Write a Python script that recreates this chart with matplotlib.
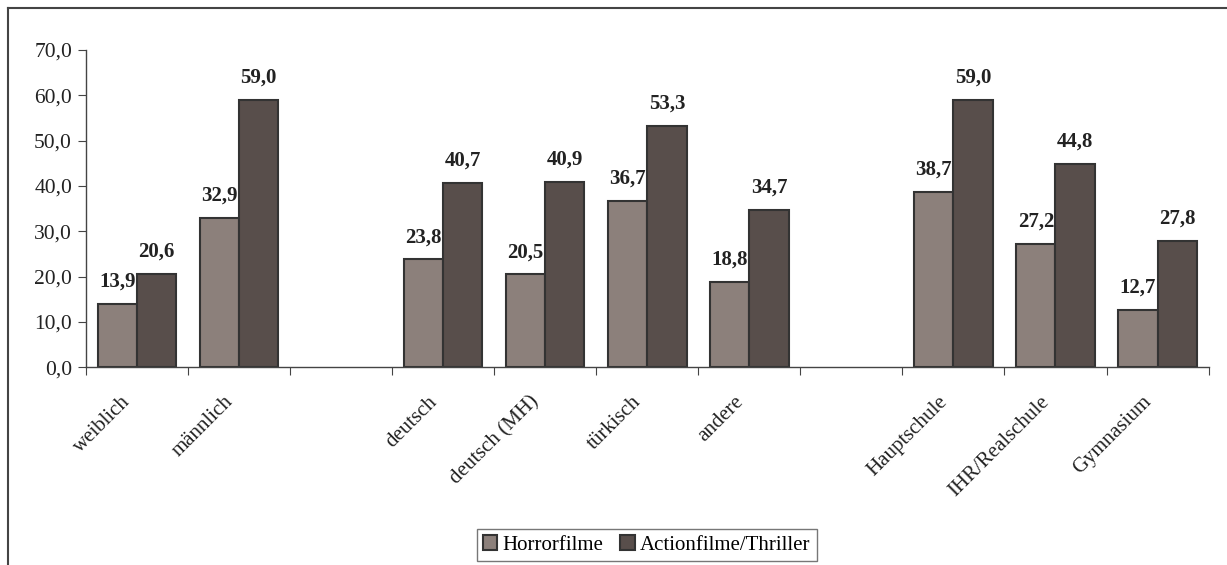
import matplotlib.pyplot as plt
import matplotlib.lines as mlines
import matplotlib.transforms as mtrans
import numpy as np

plt.rcParams['font.family'] = ['Liberation Serif', 'DejaVu Serif']

# categories (empty strings are the spacer slots between groups)
categories = ['weiblich', 'männlich', '',
              'deutsch', 'deutsch (MH)', 'türkisch', 'andere', '',
              'Hauptschule', 'IHR/Realschule', 'Gymnasium']
horror = [13.9, 32.9, None, 23.8, 20.5, 36.7, 18.8, None, 38.7, 27.2, 12.7]
action = [20.6, 59.0, None, 40.7, 40.9, 53.3, 34.7, None, 59.0, 44.8, 27.8]
series_names = ['Horrorfilme', 'Actionfilme/Thriller']

c_horror = '#8c807b'
c_action = '#584e4b'
edge = '#333333'

fig = plt.figure(figsize=(12.27, 5.65), dpi=100)
ax = fig.add_axes([0.070, 0.350, 0.915, 0.5615])

x = np.arange(len(categories))
w = 0.385

def fmt(v):
    return f'{v:.1f}'.replace('.', ',')

for vals, off, col, name in [(horror, -w / 2, c_horror, series_names[0]),
                             (action, w / 2, c_action, series_names[1])]:
    xs = [xi + off for xi, v in zip(x, vals) if v is not None]
    vs = [v for v in vals if v is not None]
    ax.bar(xs, vs, width=w, color=col, edgecolor=edge, linewidth=1.5, label=name)
    for xi, v in zip(xs, vs):
        ax.text(xi, v + 2.7, fmt(v), ha='center', va='bottom',
                fontsize=15, fontweight='bold', color='#222222')

ax.set_xlim(-0.5, len(categories) - 0.5)
ax.set_ylim(0, 70)
ax.set_yticks(np.arange(0, 71, 10))
ax.set_yticklabels([fmt(v) for v in np.arange(0, 71, 10)])

# boundary ticks, labels drawn as rotated texts under each slot
ax.set_xticks(np.arange(-0.5, len(categories), 1.0))
ax.set_xticklabels([])
lab_tr = mtrans.blended_transform_factory(ax.transData, ax.transAxes) + \
    mtrans.ScaledTranslation(-9 / 100, -32 / 100, fig.dpi_scale_trans)
for xi, name in zip(x, categories):
    if name:
        ax.text(xi, 0, name, transform=lab_tr, rotation=45, ha='right', va='center',
                rotation_mode='anchor', fontsize=15, color='#222222')
ax.tick_params(axis='x', which='major', length=6, direction='out', color='#444444')
ax.tick_params(axis='y', labelsize=15.5, length=6, color='#444444', labelcolor='#222222', pad=4)

for s in ['top', 'right']:
    ax.spines[s].set_visible(False)
for s in ['left', 'bottom']:
    ax.spines[s].set_color('#444444')
    ax.spines[s].set_linewidth(1.0)

leg = ax.legend(loc='lower center', bbox_to_anchor=(0.527, 0.0), bbox_transform=fig.transFigure,
                ncol=2, frameon=True, fancybox=False, fontsize=15,
                handlelength=0.7, handleheight=0.7, handletextpad=0.25,
                columnspacing=0.8, borderpad=0.3, borderaxespad=0.2)
leg.get_frame().set_edgecolor('#555555')
leg.get_frame().set_linewidth(1.0)

# outer chart border (left and top edges)
fx0, fy0 = 8 / 1227, 1 - 8 / 565
fig.add_artist(mlines.Line2D([fx0, 1.0], [fy0, fy0], transform=fig.transFigure, color='#444444', lw=1.5))
fig.add_artist(mlines.Line2D([fx0, fx0], [0.0, fy0], transform=fig.transFigure, color='#444444', lw=1.5))

fig.savefig('out.png', dpi=100)
